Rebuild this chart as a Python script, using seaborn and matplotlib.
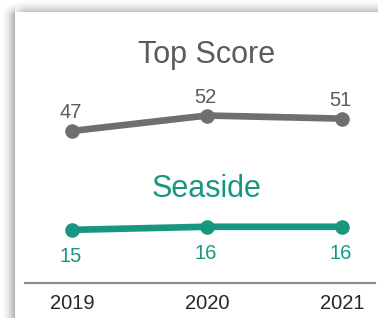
import numpy as np
import pandas as pd
import matplotlib.pyplot as plt
import seaborn as sns

# data
years = [2019, 2020, 2021]
top_score = [47, 52, 51]
seaside = [15, 16, 16]
series_names = ["Top Score", "Seaside"]

GRAY = "#6f6f70"
GRAY_TEXT = "#5b5b5b"
TEAL = "#17977f"

sns.set_theme(style="white")
plt.rcParams['font.family'] = ['Liberation Sans', 'DejaVu Sans']

df = pd.DataFrame({
    "year": years * 2,
    "value": top_score + seaside,
    "series": [series_names[0]] * len(years) + [series_names[1]] * len(years),
})

W, H = 378, 318
fig = plt.figure(figsize=(W / 100, H / 100), dpi=100)
fig.patch.set_facecolor("white")

# card shadow on the left and top edges
bg = fig.add_axes([0, 0, 1, 1])
xx, yy = np.meshgrid(np.arange(W), np.arange(H))
shade = np.zeros((H, W))
left = np.where(xx < 15, (xx / 14.0) ** 2 * 0.30, 0.0)
left *= np.clip((yy - 4) / 10.0, 0, 1)
top = np.where((yy < 12) & (xx >= 14), (yy / 11.0) ** 1.5 * 0.22, 0.0)
top *= np.clip((xx - 10) / 14.0, 0, 1)
shade = np.maximum(left, top)
shade[(xx >= 15) & (yy >= 12)] = 0
img = np.dstack([1 - shade] * 3)
bg.imshow(img, aspect="auto", interpolation="bilinear")
bg.axis("off")

# main chart area (spine at y=283 px, from x=25 to 375 px)
ax = fig.add_axes([25 / W, (H - 283) / H, 350 / W, (283 - 12) / H])
ax.patch.set_alpha(0)

sns.lineplot(data=df, x="year", y="value", hue="series",
             palette={series_names[0]: GRAY, series_names[1]: TEAL},
             marker="o", markersize=10.5, markeredgewidth=0,
             linewidth=4.8, legend=False, ax=ax)

ax.set_xlim(2018.652, 2021.244)
ax.set_ylim(-2.2, 85.5)

for x, v in zip(years, top_score):
    ax.annotate(str(v), (x, v), xytext=(-1, 13), textcoords="offset points",
                ha="center", va="center", fontsize=14.5, color=GRAY_TEXT)
for x, v in zip(years, seaside):
    ax.annotate(str(v), (x, v), xytext=(-1, -19), textcoords="offset points",
                ha="center", va="center", fontsize=14.5, color=TEAL)

ax.text(2020, 69, "Top Score", ha="center", va="baseline",
        fontsize=22, color=GRAY_TEXT)
ax.text(2020, 25.6, "Seaside", ha="center", va="baseline",
        fontsize=22, color=TEAL)

ax.set_xticks(years)
ax.set_xticklabels([str(y) for y in years])
ax.set_yticks([])
ax.set_xlabel("")
ax.set_ylabel("")
ax.tick_params(axis="x", length=0, pad=8, labelsize=14.5, labelcolor="#262626")
for side in ["top", "right", "left"]:
    ax.spines[side].set_visible(False)
ax.spines["bottom"].set_color("#8f8f8f")
ax.spines["bottom"].set_linewidth(1.6)

fig.savefig("out.png", dpi=100)
